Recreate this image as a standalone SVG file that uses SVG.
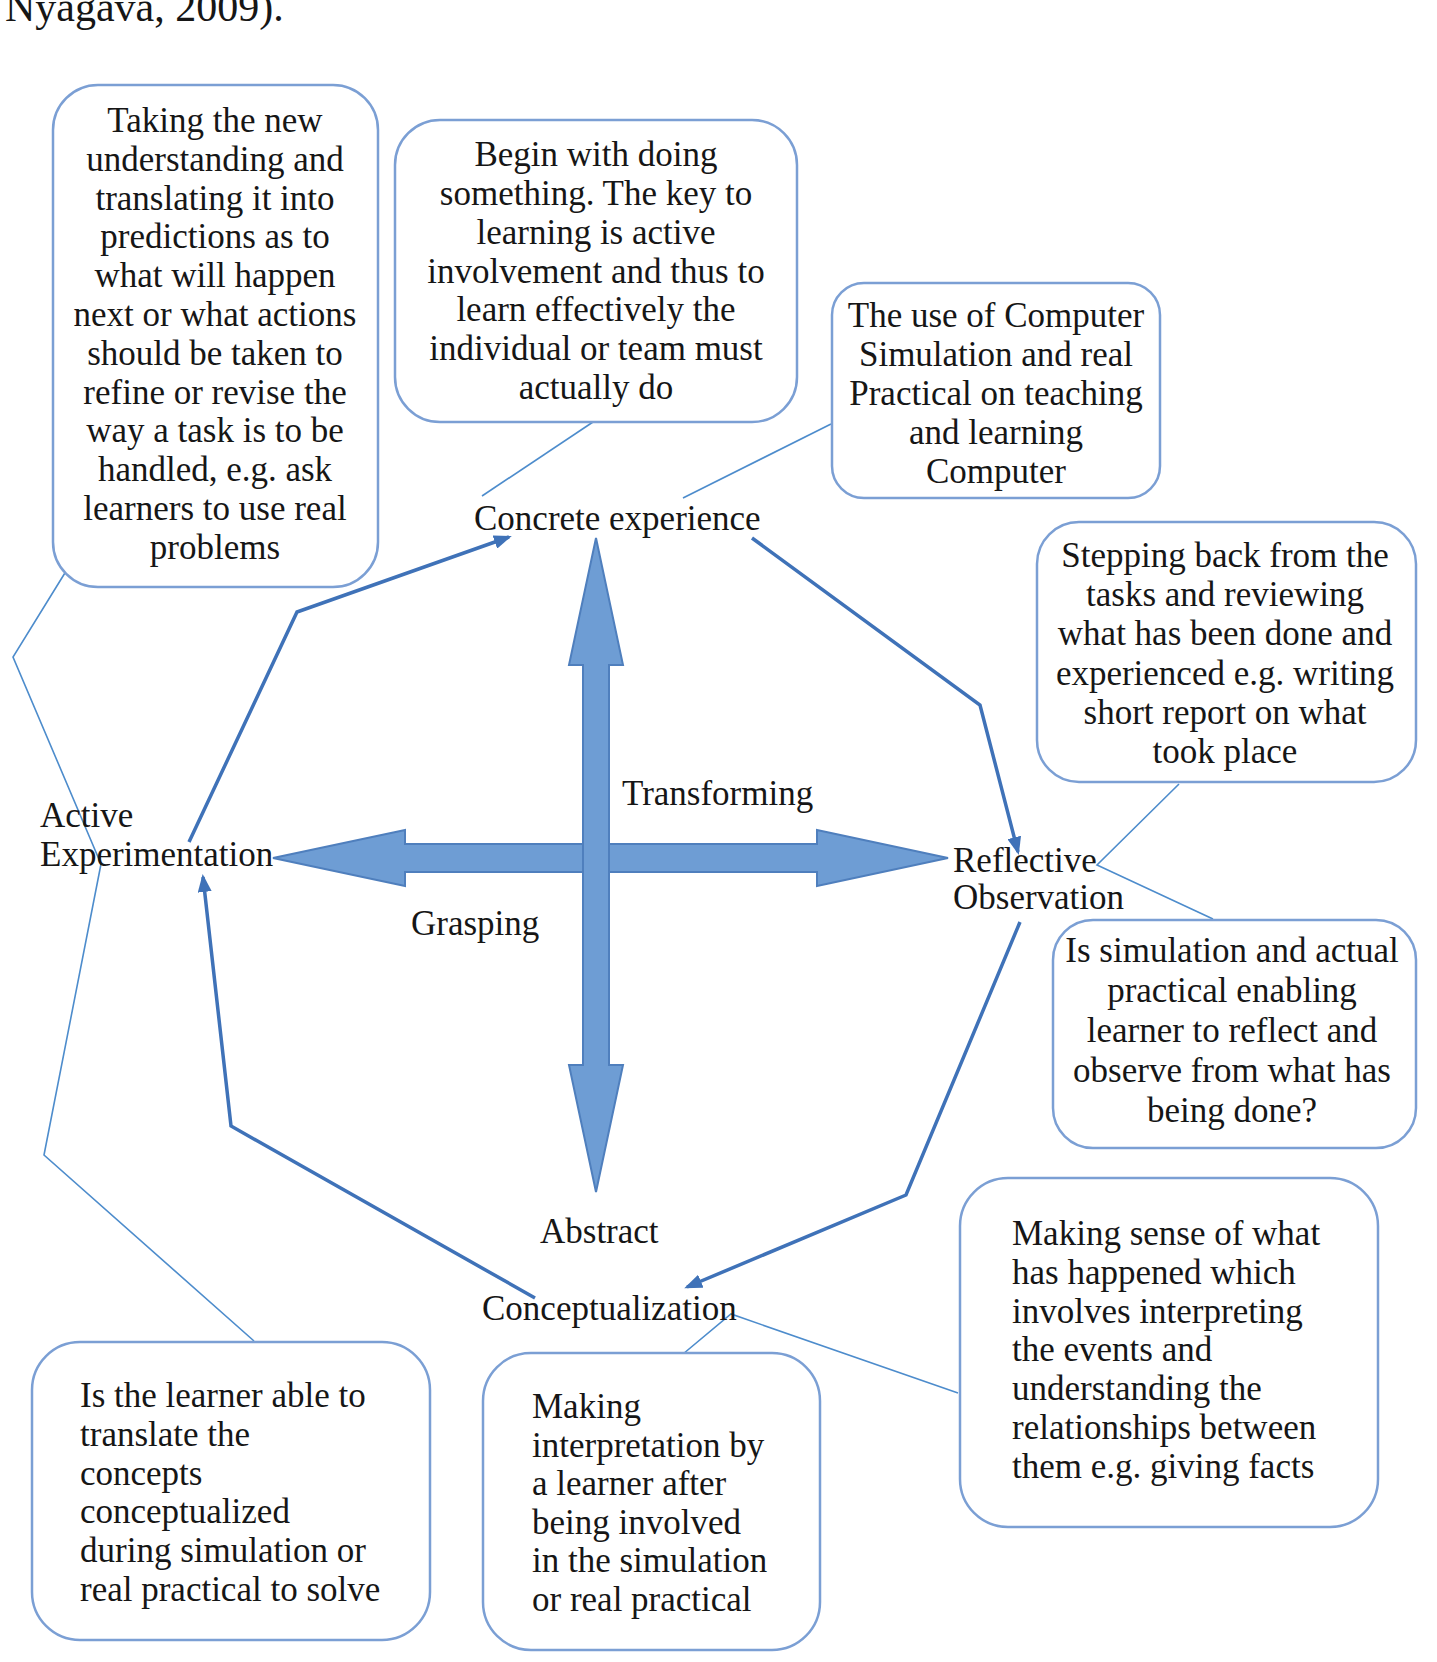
<svg xmlns="http://www.w3.org/2000/svg" width="1437" height="1662" viewBox="0 0 1437 1662">
<defs>
<style>
.t{font-family:"Liberation Serif","Times New Roman",serif;font-size:35px;fill:#161616}
.c{text-anchor:middle}
.box{fill:#ffffff;stroke:#7b9fd4;stroke-width:2.5}
.cyc{fill:none;stroke:#3f72b8;stroke-width:3.5;stroke-linejoin:miter}
.call{fill:none;stroke:#4d8ccc;stroke-width:1.6}
.big{fill:#6e9dd4;stroke:#4f7fbd;stroke-width:2}
</style>
<marker id="ah" markerWidth="18" markerHeight="14" refX="15" refY="7" orient="auto" markerUnits="userSpaceOnUse">
<path d="M0,0 L18,7 L0,14 z" fill="#3f72b8"/>
</marker>
</defs>
<rect width="1437" height="1662" fill="#ffffff"/>
<text class="t" x="5" y="21" style="font-size:42px">Nyagava, 2009).</text>

<g id="connectors">
<polyline class="cyc" points="189,842 297,612 509,537" marker-end="url(#ah)"/>
<polyline class="cyc" points="752,538 980,705 1018,852" marker-end="url(#ah)"/>
<polyline class="cyc" points="1020,922 906,1195 687,1287" marker-end="url(#ah)"/>
<polyline class="cyc" points="535,1298 231,1126 203,877" marker-end="url(#ah)"/>
<polyline class="call" points="593,422 482,496"/>
<polyline class="call" points="831,424 683,498"/>
<polyline class="call" points="68,568 13,657 101,864 44,1155 254,1341"/>
<polyline class="call" points="1179,784 1097,865 1213,919"/>
<polyline class="call" points="683,1354 731,1314 958,1393"/>
</g>

<g id="cross">
<polygon class="big" points="273,858 405,830 405,844 817,844 817,830 948,858 817,886 817,872 405,872 405,886"/>
<polygon class="big" points="596,538 623,665 609,665 609,1065 623,1065 596,1192 569,1065 583,1065 583,665 569,665"/>
</g>

<g id="labels">
<text class="t" x="474" y="530">Concrete experience</text>
<text class="t" x="622" y="805">Transforming</text>
<text class="t" x="40" y="827">Active</text>
<text class="t" x="40" y="866">Experimentation</text>
<text class="t" x="411" y="935">Grasping</text>
<text class="t" x="953" y="872">Reflective</text>
<text class="t" x="953" y="909">Observation</text>
<text class="t" x="540" y="1243">Abstract</text>
<text class="t" x="482" y="1320">Conceptualization</text>
</g>

<g id="box-active">
<rect class="box" x="53" y="85" width="325" height="502" rx="45"/>
<text class="t c" x="215" y="132">Taking the new</text>
<text class="t c" x="215" y="171">understanding and</text>
<text class="t c" x="215" y="210">translating it into</text>
<text class="t c" x="215" y="248">predictions as to</text>
<text class="t c" x="215" y="287">what will happen</text>
<text class="t c" x="215" y="326">next or what actions</text>
<text class="t c" x="215" y="365">should be taken to</text>
<text class="t c" x="215" y="404">refine or revise the</text>
<text class="t c" x="215" y="442">way a task is to be</text>
<text class="t c" x="215" y="481">handled, e.g. ask</text>
<text class="t c" x="215" y="520">learners to use real</text>
<text class="t c" x="215" y="559">problems</text>
</g>

<g id="box-concrete">
<rect class="box" x="395" y="120" width="402" height="302" rx="45"/>
<text class="t c" x="596" y="166">Begin with doing</text>
<text class="t c" x="596" y="205">something. The key to</text>
<text class="t c" x="596" y="244">learning is active</text>
<text class="t c" x="596" y="283">involvement and thus to</text>
<text class="t c" x="596" y="321">learn effectively the</text>
<text class="t c" x="596" y="360">individual or team must</text>
<text class="t c" x="596" y="399">actually do</text>
</g>

<g id="box-computer">
<rect class="box" x="832" y="283" width="328" height="215" rx="32"/>
<text class="t c" x="996" y="327">The use of Computer</text>
<text class="t c" x="996" y="366">Simulation and real</text>
<text class="t c" x="996" y="405">Practical on teaching</text>
<text class="t c" x="996" y="444">and learning</text>
<text class="t c" x="996" y="483">Computer</text>
</g>

<g id="box-reflective">
<rect class="box" x="1037" y="522" width="379" height="260" rx="42"/>
<text class="t c" x="1225" y="567">Stepping back from the</text>
<text class="t c" x="1225" y="606">tasks and reviewing</text>
<text class="t c" x="1225" y="645">what has been done and</text>
<text class="t c" x="1225" y="685">experienced e.g. writing</text>
<text class="t c" x="1225" y="724">short report on what</text>
<text class="t c" x="1225" y="763">took place</text>
</g>

<g id="box-observe">
<rect class="box" x="1053" y="920" width="363" height="228" rx="40"/>
<text class="t c" x="1232" y="962">Is simulation and actual</text>
<text class="t c" x="1232" y="1002">practical enabling</text>
<text class="t c" x="1232" y="1042">learner to reflect and</text>
<text class="t c" x="1232" y="1082">observe from what has</text>
<text class="t c" x="1232" y="1122">being done?</text>
</g>

<g id="box-sense">
<rect class="box" x="960" y="1178" width="418" height="349" rx="48"/>
<text class="t" x="1012" y="1245">Making sense of what</text>
<text class="t" x="1012" y="1284">has happened which</text>
<text class="t" x="1012" y="1323">involves interpreting</text>
<text class="t" x="1012" y="1361">the events and</text>
<text class="t" x="1012" y="1400">understanding the</text>
<text class="t" x="1012" y="1439">relationships between</text>
<text class="t" x="1012" y="1478">them e.g. giving facts</text>
</g>

<g id="box-translate">
<rect class="box" x="32" y="1342" width="398" height="298" rx="48"/>
<text class="t" x="80" y="1407">Is the learner able to</text>
<text class="t" x="80" y="1446">translate the</text>
<text class="t" x="80" y="1485">concepts</text>
<text class="t" x="80" y="1523">conceptualized</text>
<text class="t" x="80" y="1562">during simulation or</text>
<text class="t" x="80" y="1601">real practical to solve</text>
</g>

<g id="box-interpret">
<rect class="box" x="483" y="1353" width="337" height="297" rx="48"/>
<text class="t" x="532" y="1418">Making</text>
<text class="t" x="532" y="1457">interpretation by</text>
<text class="t" x="532" y="1495">a learner after</text>
<text class="t" x="532" y="1534">being involved</text>
<text class="t" x="532" y="1572">in the simulation</text>
<text class="t" x="532" y="1611">or real practical</text>
</g>
</svg>
